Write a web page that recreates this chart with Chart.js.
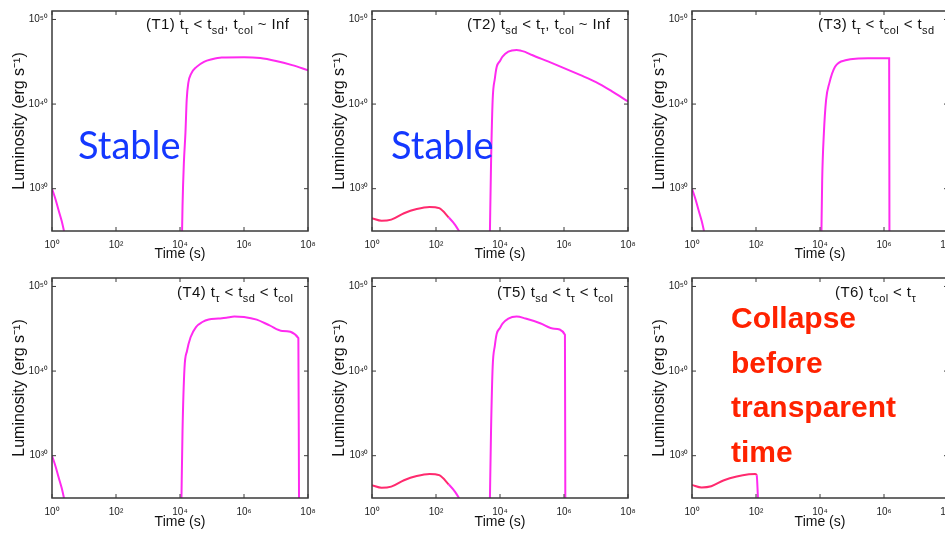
<!DOCTYPE html>
<html>
<head>
<meta charset="utf-8">
<script src="https://cdn.jsdelivr.net/npm/chart.js@4.4.0/dist/chart.umd.min.js"></script>
<style>
  html, body { margin: 0; padding: 0; background: #fff; }
  #page { position: relative; width: 945px; height: 536px; overflow: hidden; font-family: "Liberation Sans", Arial, sans-serif; }
  .panel { position: absolute; width: 320px; height: 268px; }
  .note { position: absolute; font-size: 15px; line-height: 1; letter-spacing: 0.4px; white-space: nowrap; color: #111; }
  .note sub { font-size: 11px; vertical-align: -5px; line-height: 0; }
  .stable { position: absolute; font-family: Lato, sans-serif; font-size: 38px; line-height: 1; color: #1438ff; }
  .collapse { position: absolute; left: 731px; top: 296px; font-weight: bold; font-size: 30px; line-height: 44.7px; color: #ff2200; }
</style>
</head>
<body>
<div id="page">
  <div class="panel" style="left:0;top:0"><canvas id="c1" width="320" height="268"></canvas></div>
  <div class="panel" style="left:320px;top:0"><canvas id="c2" width="320" height="268"></canvas></div>
  <div class="panel" style="left:640px;top:0"><canvas id="c3" width="320" height="268"></canvas></div>
  <div class="panel" style="left:0;top:268px"><canvas id="c4" width="320" height="268"></canvas></div>
  <div class="panel" style="left:320px;top:268px"><canvas id="c5" width="320" height="268"></canvas></div>
  <div class="panel" style="left:640px;top:268px"><canvas id="c6" width="320" height="268"></canvas></div>

  <div class="note" style="left:146px;top:16px">(T1) t<sub>τ</sub> &lt; t<sub>sd</sub>, t<sub>col</sub> ~ Inf</div>
  <div class="note" style="left:467px;top:16px">(T2) t<sub>sd</sub> &lt; t<sub>τ</sub>, t<sub>col</sub> ~ Inf</div>
  <div class="note" style="left:818px;top:16px">(T3) t<sub>τ</sub> &lt; t<sub>col</sub> &lt; t<sub>sd</sub></div>
  <div class="note" style="left:177px;top:284px">(T4) t<sub>τ</sub> &lt; t<sub>sd</sub> &lt; t<sub>col</sub></div>
  <div class="note" style="left:497px;top:284px">(T5) t<sub>sd</sub> &lt; t<sub>τ</sub> &lt; t<sub>col</sub></div>
  <div class="note" style="left:835px;top:284px">(T6) t<sub>col</sub> &lt; t<sub>τ</sub></div>

  <div class="stable" style="left:78px;top:125px">Stable</div>
  <div class="stable" style="left:391px;top:125px">Stable</div>
  <div class="collapse">Collapse<br>before<br>transparent<br>time</div>
</div>

<script>
// axis ticks
const xTicks = [1, 1e2, 1e4, 1e6, 1e8];
const xTickLabels = ['10⁰', '10²', '10⁴', '10⁶', '10⁸'];
const yTicks = [1e30, 1e40, 1e50];
const yTickLabels = ['10³⁰', '10⁴⁰', '10⁵⁰'];

// early decay (T1, T3, T4)
const decayTime = [1, 1.3, 1.6, 2.0, 2.5];
const decayLum = [1e30, 5e28, 3e27, 1.6e26, 4e24];

// early bump (T2, T5)
const bumpTime = [1, 2, 4, 10, 25, 63, 126, 250, 400, 560];
const bumpLum = [3.2e26, 1.6e26, 2.2e26, 1.26e27, 4e27, 7e27, 5e27, 4e26, 5e25, 6.3e24];

// early bump cut by collapse (T6)
const t6Time = [1, 2, 4, 10, 25, 60, 95, 105, 118];
const t6Lum = [3.5e26, 1.8e26, 2.5e26, 1.26e27, 3.5e27, 6.3e27, 7e27, 5e27, 1e24];

// main light curves
const t1Time = [1.15e4, 1.2e4, 1.32e4, 1.48e4, 1.62e4, 1.82e4, 2.24e4, 3.3e4, 5.6e4, 1e5, 2e5, 1e6, 3.2e6, 1e7, 3.2e7, 1e8];
const t1Lum = [1e24, 1e28, 1e33, 4e36, 3.2e40, 3.2e42, 4e43, 2.5e44, 1e45, 2e45, 3.2e45, 3.5e45, 2.8e45, 1.26e45, 4e44, 1e44];

const t2Time = [4.8e3, 5.25e3, 5.9e3, 6.9e3, 7.9e3, 1e4, 1.2e4, 1.82e4, 3.3e4, 6.3e4, 1e5, 3.16e5, 1e6, 3.16e6, 1e7, 3.16e7, 1e8];
const t2Lum = [1e24, 1e33, 3.2e40, 1e43, 2.5e44, 1.26e45, 4e45, 1.6e46, 2.5e46, 1.4e46, 6.3e45, 1.1e45, 1.8e44, 2.8e43, 4e42, 3.2e41, 2e40];

const t3Time = [1.1e4, 1.17e4, 1.32e4, 1.55e4, 1.95e4, 2.95e4, 6.8e4, 1.58e5, 3.16e5, 1e6, 1.45e6, 1.48e6];
const t3Lum = [1e24, 1e31, 3.2e36, 3.2e40, 2.8e42, 2.5e44, 1.6e45, 2.4e45, 2.6e45, 2.6e45, 2.6e45, 1e24];

const t4Time = [1.1e4, 1.2e4, 1.38e4, 1.66e4, 2.14e4, 3.16e4, 5e4, 7.9e4, 1.58e5, 2.8e5, 5e5, 1e6, 2.5e6, 6.3e6, 1.58e7, 5e7, 5.25e7];
const t4Lum = [1e24, 1e33, 2e40, 2.5e42, 1e44, 1.6e45, 6.3e45, 1.26e46, 1.6e46, 2e46, 2.8e46, 2.5e46, 1.2e46, 2.5e45, 5.6e44, 8e43, 1e24];

const t5Time = [4.8e3, 5.25e3, 5.9e3, 6.9e3, 7.9e3, 1e4, 1.2e4, 1.82e4, 3.3e4, 6.3e4, 1.8e5, 5e5, 1.07e6, 1.1e6];
const t5Lum = [1e24, 1e33, 3.2e40, 1e43, 2.5e44, 1.26e45, 4e45, 1.6e46, 2.8e46, 1.6e46, 4.5e45, 1e45, 2e44, 1e24];

const MAGENTA = '#ff2af0';
const PINK = '#ff2a6e';

function pts(times, lums) {
    return times.map((t, i) => ({ x: t, y: lums[i] }));
}

function curve(times, lums, color) {
    return {
        data: pts(times, lums),
        borderColor: color,
        borderWidth: 2,
        pointRadius: 0,
        cubicInterpolationMode: 'monotone',
        // steep fall-off drawn magenta like the original colour map
        segment: color === PINK ? { borderColor: c => c.p1.parsed.y < 1e26 ? MAGENTA : PINK } : undefined
    };
}

// box with inward ticks on all four sides
const framePlugin = {
    id: 'frame',
    afterDatasetsDraw(chart) {
        const { ctx, chartArea: { left, top, right, bottom }, scales: { x, y } } = chart;
        ctx.save();
        ctx.strokeStyle = '#3a3a3a';
        ctx.lineWidth = 1.5;
        ctx.strokeRect(left, top, right - left, bottom - top);
        ctx.beginPath();
        x.ticks.forEach(t => {
            const px = x.getPixelForValue(t.value);
            ctx.moveTo(px, bottom); ctx.lineTo(px, bottom - 4);
            ctx.moveTo(px, top); ctx.lineTo(px, top + 4);
        });
        y.ticks.forEach(t => {
            const py = y.getPixelForValue(t.value);
            ctx.moveTo(left, py); ctx.lineTo(left + 4, py);
            ctx.moveTo(right, py); ctx.lineTo(right - 4, py);
        });
        ctx.lineWidth = 1;
        ctx.stroke();
        ctx.restore();
    }
};

function makePanel(id, datasets, padTop) {
    return new Chart(document.getElementById(id), {
        type: 'line',
        data: { datasets: datasets },
        options: {
            responsive: false,
            animation: false,
            layout: { padding: { top: padTop, right: 12, left: 0, bottom: 0 } },
            plugins: { legend: { display: false }, tooltip: { enabled: false } },
            scales: {
                x: {
                    type: 'logarithmic',
                    min: 1,
                    max: 1e8,
                    afterBuildTicks: s => { s.ticks = xTicks.map(v => ({ value: v })); },
                    afterFit: s => {
                        s.height = 268 - 220 - padTop;
                        s.paddingLeft = 0;
                        s.paddingRight = 0;
                    },
                    grid: { display: false, drawTicks: false },
                    border: { display: false },
                    ticks: {
                        callback: (v, i) => xTickLabels[i],
                        font: { size: 10, family: 'Liberation Sans' },
                        color: '#222',
                        padding: 8,
                        maxRotation: 0,
                        autoSkip: false
                    },
                    title: {
                        display: true,
                        text: 'Time (s)',
                        font: { size: 14, family: 'Liberation Sans' },
                        color: '#111',
                        padding: { top: 0, bottom: 5 }
                    }
                },
                y: {
                    type: 'logarithmic',
                    min: 1e25,
                    max: 1e51,
                    afterBuildTicks: s => { s.ticks = yTicks.map(v => ({ value: v })); },
                    afterFit: s => {
                        s.width = 52;
                        s.paddingTop = 0;
                        s.paddingBottom = 0;
                    },
                    grid: { display: false, drawTicks: false },
                    border: { display: false },
                    ticks: {
                        callback: (v, i) => yTickLabels[i],
                        font: { size: 10, family: 'Liberation Sans' },
                        color: '#222',
                        padding: 4,
                        autoSkip: false
                    },
                    title: {
                        display: true,
                        text: 'Luminosity (erg s⁻¹)',
                        font: { size: 16, family: 'Liberation Sans' },
                        color: '#111',
                        padding: { top: 10, bottom: 0 }
                    }
                }
            }
        },
        plugins: [framePlugin]
    });
}

makePanel('c1', [curve(decayTime, decayLum, MAGENTA), curve(t1Time, t1Lum, MAGENTA)], 11);
makePanel('c2', [curve(bumpTime, bumpLum, PINK), curve(t2Time, t2Lum, MAGENTA)], 11);
makePanel('c3', [curve(decayTime, decayLum, MAGENTA), curve(t3Time, t3Lum, MAGENTA)], 11);
makePanel('c4', [curve(decayTime, decayLum, MAGENTA), curve(t4Time, t4Lum, MAGENTA)], 10);
makePanel('c5', [curve(bumpTime, bumpLum, PINK), curve(t5Time, t5Lum, MAGENTA)], 10);
makePanel('c6', [curve(t6Time, t6Lum, PINK)], 10);
</script>
</body>
</html>
